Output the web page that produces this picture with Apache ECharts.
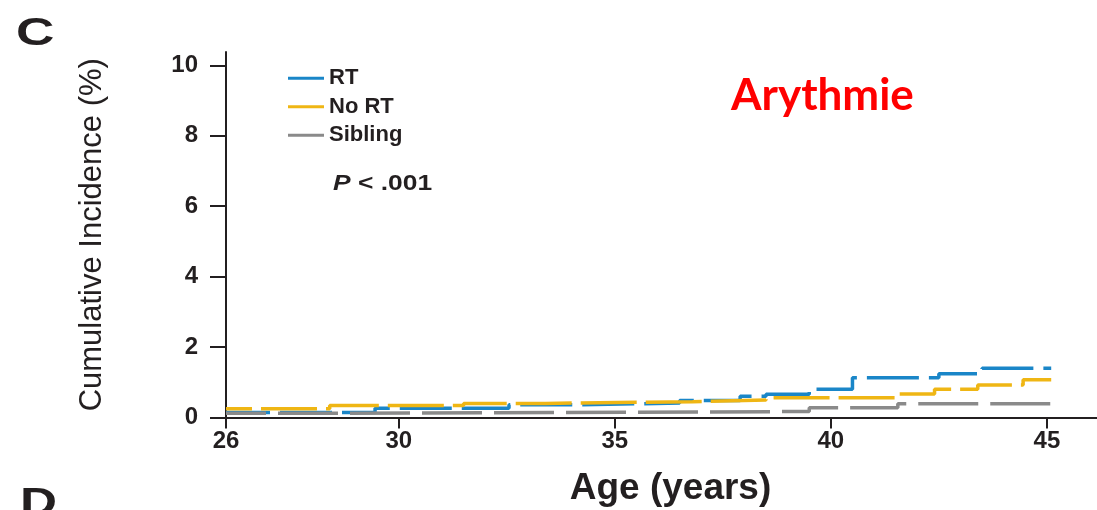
<!DOCTYPE html>
<html>
<head>
<meta charset="utf-8">
<script src="https://cdn.jsdelivr.net/npm/echarts@6/dist/echarts.min.js"></script>
<style>
  html, body { margin: 0; padding: 0; background: #fff; }
  #chart { width: 1097px; height: 510px; }
</style>
</head>
<body>
<div id="chart"></div>
<script>
// step points: age (years) at which the curve changes, cumulative incidence (%) from there on
const rtAges = [26, 29.45, 32.55, 34.2, 36.5, 37.9, 38.5, 39.5, 40.5, 42.5, 43.5, 45.1];
const rtValues = [0.14, 0.26, 0.36, 0.41, 0.48, 0.60, 0.66, 0.80, 1.13, 1.24, 1.40, 1.40];

const noRtAges = [26, 28.4, 31.5, 33.4, 36.8, 38.5, 41.5, 42.4, 43.4, 44.45, 45.1];
const noRtValues = [0.25, 0.34, 0.40, 0.45, 0.50, 0.56, 0.67, 0.80, 0.92, 1.07, 1.07];

const siblingAges = [26, 28.4, 39.5, 41.55, 45.1];
const siblingValues = [0.12, 0.17, 0.28, 0.39, 0.39];

const xTicks = [26, 30, 35, 40, 45];
const yTicks = [0, 2, 4, 6, 8, 10];

const toPairs = (xs, ys) => xs.map((x, i) => [x, ys[i]]);

const ink = '#231f20';
const font = 'Liberation Sans, Arial, sans-serif';

const chart = echarts.init(document.getElementById('chart'));

const option = {
  animation: false,
  backgroundColor: '#fff',
  title: {
    text: 'Arythmie',
    left: 731,
    top: 74,
    padding: 0,
    textStyle: {
      color: '#ff0000',
      fontFamily: 'Lato, sans-serif',
      fontWeight: 'bold',
      fontSize: 44
    }
  },
  legend: {
    orient: 'vertical',
    left: 288,
    top: 64,
    padding: 0,
    icon: 'rect',
    itemWidth: 36,
    itemHeight: 3,
    itemGap: 0,
    data: ['RT', 'No RT', 'Sibling'],
    textStyle: { color: ink, fontFamily: font, fontWeight: 'bold', fontSize: 22, lineHeight: 28.5 }
  },
  grid: {
    left: 226,
    right: 0,
    top: 52,
    bottom: 92.5,
    containLabel: false,
    outerBoundsMode: 'none'
  },
  xAxis: {
    type: 'value',
    min: 26,
    max: 46.16,
    name: 'Age (years)',
    nameLocation: 'middle',
    nameGap: 53,
    nameTextStyle: { color: ink, fontFamily: font, fontWeight: 'bold', fontSize: 37, padding: [0, 0, 0, 18] },
    axisLine: { lineStyle: { color: ink, width: 2 } },
    axisTick: { show: true, length: 11, inside: false, customValues: xTicks, lineStyle: { color: ink, width: 2 } },
    axisLabel: {
      customValues: xTicks,
      formatter: v => (xTicks.includes(v) ? String(v) : ''),
      margin: 12,
      color: ink,
      fontFamily: font,
      fontWeight: 'bold',
      fontSize: 24
    },
    splitLine: { show: false }
  },
  yAxis: {
    type: 'value',
    min: 0,
    max: 10.38,
    name: 'Cumulative Incidence (%)',
    nameLocation: 'middle',
    nameRotate: 90,
    nameGap: 118,
    nameTextStyle: { color: ink, fontFamily: font, fontSize: 31 },
    axisLine: { show: true, lineStyle: { color: ink, width: 2 } },
    axisTick: { show: true, length: 16, inside: false, customValues: yTicks, lineStyle: { color: ink, width: 2 } },
    axisLabel: {
      customValues: yTicks,
      formatter: v => (yTicks.includes(v) ? String(v) : ''),
      margin: 28,
      color: ink,
      fontFamily: font,
      fontWeight: 'bold',
      fontSize: 24
    },
    splitLine: { show: false }
  },
  series: [
    {
      name: 'RT',
      type: 'line',
      step: 'end',
      symbol: 'none',
      data: toPairs(rtAges, rtValues),
      color: '#1a86c8',
      lineStyle: { width: 3.5, color: '#1a86c8', type: [52, 10], dashOffset: 8 }
    },
    {
      name: 'No RT',
      type: 'line',
      step: 'end',
      symbol: 'none',
      data: toPairs(noRtAges, noRtValues),
      color: '#efb614',
      lineStyle: { width: 3.5, color: '#efb614', type: [56, 9], dashOffset: 30 }
    },
    {
      name: 'Sibling',
      type: 'line',
      step: 'end',
      symbol: 'none',
      data: toPairs(siblingAges, siblingValues),
      color: '#8a8a8a',
      lineStyle: { width: 3.5, color: '#8a8a8a', type: [60, 12], dashOffset: 20 }
    }
  ],
  graphic: [
    {
      type: 'text',
      x: 16,
      y: 16,
      scaleX: 1.4,
      style: { text: 'C', fill: ink, font: 'bold 38px Liberation Sans, Arial, sans-serif' }
    },
    {
      type: 'text',
      x: 20,
      y: 486,
      scaleX: 1.35,
      style: { text: 'D', fill: ink, font: 'bold 38px Liberation Sans, Arial, sans-serif' }
    },
    {
      type: 'text',
      x: 333,
      y: 173,
      scaleX: 1.2,
      style: {
        text: '{i|P} < .001',
        fill: ink,
        font: 'bold 22px Liberation Sans, Arial, sans-serif',
        rich: {
          i: { fontStyle: 'italic', fontWeight: 'bold', fontSize: 22, fontFamily: 'Liberation Sans, Arial, sans-serif', fill: ink }
        }
      }
    }
  ]
};

chart.setOption(option);
</script>
</body>
</html>
